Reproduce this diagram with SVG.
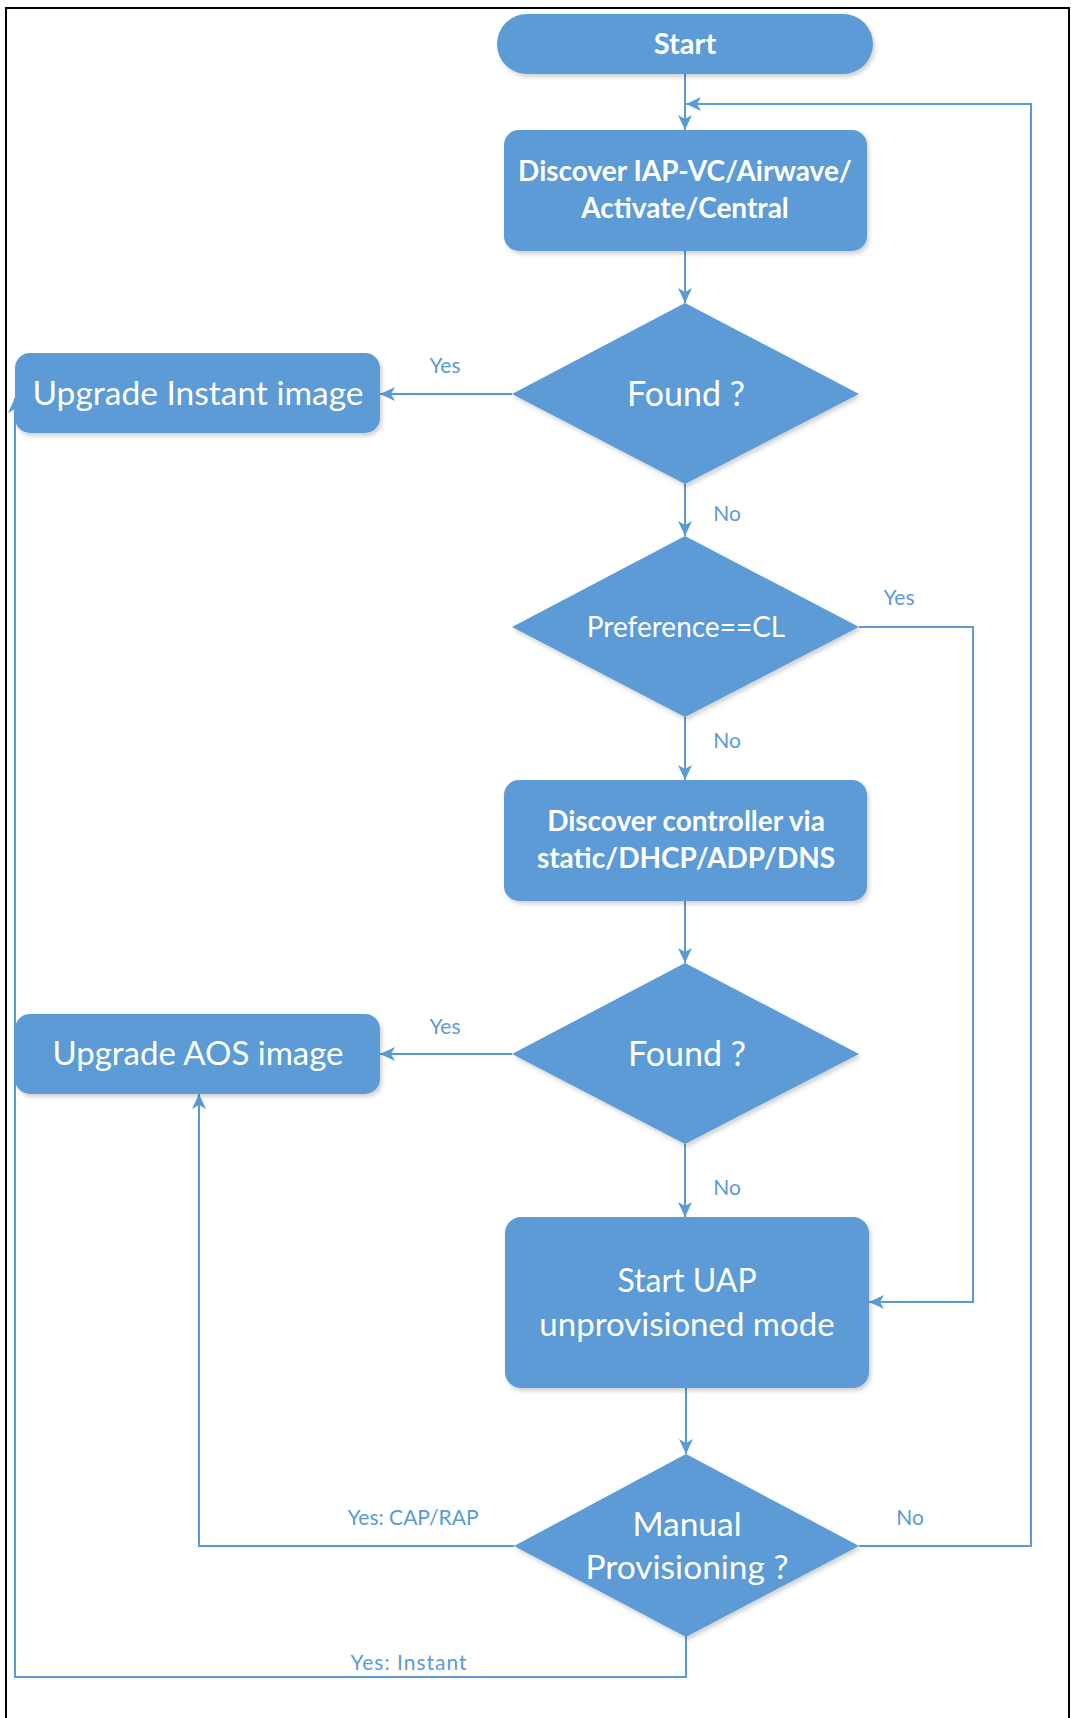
<svg xmlns="http://www.w3.org/2000/svg" width="1071" height="1718" viewBox="0 0 1071 1718">
<style>
.node{fill:#5B9BD5;filter:url(#sh)}
.t{fill:#fff;font-family:Lato,"Liberation Sans",sans-serif;text-anchor:middle}
.b{font-weight:bold}
.c{fill:none;stroke:#5B9BD5;stroke-width:2}
.lbl{fill:#5B9BD5;font-family:Lato,"Liberation Sans",sans-serif;font-size:21px;text-anchor:middle}
</style>
<defs>
<filter id="sh" x="-10%" y="-10%" width="120%" height="130%">
<feDropShadow dx="2" dy="3" stdDeviation="2" flood-color="#000" flood-opacity="0.18"/>
</filter>
<marker id="ah" markerUnits="userSpaceOnUse" markerWidth="16" markerHeight="14" refX="15" refY="7" orient="auto">
<path d="M0,0 L15,7 L0,14 L4,7 z" fill="#5B9BD5"/>
</marker>
</defs>
<rect x="0" y="0" width="1071" height="1718" fill="#fff"/>
<path d="M6,1720 V8 H1069 V1720" fill="none" stroke="#000" stroke-width="2"/>

<g id="connectors">
<path class="c" d="M685,74 V130" marker-end="url(#ah)"/>
<path class="c" d="M685,251 V303" marker-end="url(#ah)"/>
<path class="c" d="M685,484 V536" marker-end="url(#ah)"/>
<path class="c" d="M685,717 V780" marker-end="url(#ah)"/>
<path class="c" d="M685,901 V963" marker-end="url(#ah)"/>
<path class="c" d="M685,1144 V1217" marker-end="url(#ah)"/>
<path class="c" d="M686,1388 V1454" marker-end="url(#ah)"/>
<path class="c" d="M512,394 H380" marker-end="url(#ah)"/>
<path class="c" d="M512,1054 H380" marker-end="url(#ah)"/>
<path class="c" d="M859,627 H973 V1302 H869" marker-end="url(#ah)"/>
<path class="c" d="M514,1546 H199 V1094" marker-end="url(#ah)"/>
<path class="c" d="M859,1546 H1031 V104 H686" marker-end="url(#ah)"/>
<path class="c" d="M686,1635 V1677 H15 V398" marker-end="url(#ah)"/>
<text class="lbl" x="445" y="373">Yes</text>
<text class="lbl" x="727" y="521">No</text>
<text class="lbl" x="899" y="605">Yes</text>
<text class="lbl" x="727" y="748">No</text>
<text class="lbl" x="445" y="1034">Yes</text>
<text class="lbl" x="727" y="1195">No</text>
<text class="lbl" x="413" y="1525">Yes: CAP/RAP</text>
<text class="lbl" x="910" y="1525">No</text>
<text class="lbl" x="409" y="1670" letter-spacing="1">Yes: Instant</text>
</g>

<g id="start">
<rect class="node" x="497" y="14" width="376" height="60" rx="30"/>
<text class="t b" x="685" y="54" font-size="29">Start</text>
</g>
<g id="discover-iap">
<rect class="node" x="504" y="130" width="363" height="121" rx="15"/>
<text class="t b" x="685" y="181" font-size="28">Discover IAP-VC/Airwave/</text>
<text class="t b" x="685" y="218" font-size="28">Activate/Central</text>
</g>
<g id="found1">
<polygon class="node" points="685,303 859,394 685,484 512,394"/>
<text class="t" x="686" y="406" font-size="34">Found ?</text>
</g>
<g id="upgrade-instant">
<rect class="node" x="15" y="353" width="365" height="80" rx="15"/>
<text class="t" x="198" y="405" font-size="33.5">Upgrade Instant image</text>
</g>
<g id="preference">
<polygon class="node" points="685,536 859,627 685,717 512,627"/>
<text class="t" x="686" y="637" font-size="28">Preference==CL</text>
</g>
<g id="discover-controller">
<rect class="node" x="504" y="780" width="363" height="121" rx="15"/>
<text class="t b" x="686" y="831" font-size="28">Discover controller via</text>
<text class="t b" x="686" y="868" font-size="28">static/DHCP/ADP/DNS</text>
</g>
<g id="found2">
<polygon class="node" points="685,963 859,1054 685,1144 512,1054"/>
<text class="t" x="687" y="1066" font-size="34">Found ?</text>
</g>
<g id="upgrade-aos">
<rect class="node" x="15" y="1014" width="365" height="80" rx="15"/>
<text class="t" x="198" y="1065" font-size="33">Upgrade AOS image</text>
</g>
<g id="start-uap">
<rect class="node" x="505" y="1217" width="364" height="171" rx="16"/>
<text class="t" x="687" y="1292" font-size="32">Start UAP</text>
<text class="t" x="687" y="1336" font-size="33">unprovisioned mode</text>
</g>
<g id="manual">
<polygon class="node" points="686,1454 859,1546 686,1637 514,1546"/>
<text class="t" x="687" y="1536" font-size="33.5">Manual</text>
<text class="t" x="687" y="1579" font-size="33.5">Provisioning ?</text>
</g>
</svg>
